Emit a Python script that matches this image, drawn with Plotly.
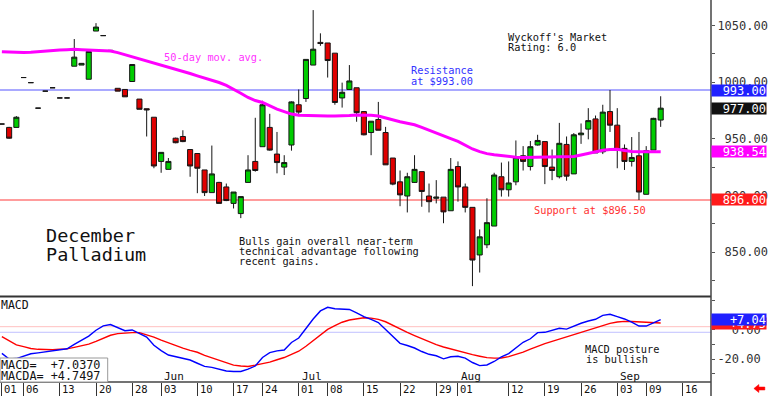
import plotly.graph_objects as go

# ---------------- data ----------------
# trading-session index of each candle (May 1 .. Sep 11, one June session missing)
day_index = list(range(92))

opens = [963, 960, 960, 1004, 999.5, 977, 992, 995, 986, 986,
         1014, 1015, 1002.5, 1045, 1041, 1027, 994.5, 993.5, 1000.5, 985,
         976.5, 969, 930, 923, 950.5, 952, 940.5, 937, 922.5, 902.5,
         911.5, 907.5, 893, 884, 911.5, 930, 943, 960, 936.5, 925,
         944.5, 980, 985.5, 1015, 1035, 1034.5, 1025.5, 986, 993.5, 995,
         974, 955.5, 967, 955.5, 933, 912, 899.5, 911.5, 921, 899.5,
         897.5, 898.5, 886.5, 925.5, 907.5, 889.5, 847.5, 856.5, 873, 916.5,
         905, 912, 935, 925.5, 944.5, 947.5, 925, 916.5, 945, 919,
         953.5, 958.5, 967.5, 938.5, 974, 962, 941.5, 930, 935, 901,
         940, 966.5]
highs = [963, 960.5, 970, 1004, 999.5, 977, 992, 995, 986, 986,
         1038, 1016.5, 1027, 1052, 1041, 1028, 994.5, 993.5, 1015.5, 985,
         976.5, 969, 938, 933, 951, 957.5, 940.5, 937, 922.5, 944,
         912, 910.5, 903, 899, 935.5, 968.5, 983.5, 972, 956, 935.5,
         983, 993.5, 1020, 1063.5, 1043, 1034.5, 1025.5, 999.5, 1015, 995,
         974.5, 965.5, 982.5, 960.5, 933, 922, 920, 935.5, 921, 910.5,
         913.5, 898.5, 933, 930, 910.5, 889.5, 870, 897.5, 920, 929,
         930, 948.5, 943.5, 948, 953.5, 947.5, 940.5, 964, 952, 955,
         963.5, 977, 970.5, 980, 993, 977, 945, 951.5, 956, 943.5,
         968.5, 987.5]
lows = [963, 950, 960, 1004, 999.5, 977, 992, 995, 986, 986,
        1014, 1015, 1002.5, 1045, 1041, 1027, 992, 987, 1000.5, 976,
        952, 924, 920, 923, 946, 947, 916.5, 902, 899.5, 902.5,
        893, 895, 888.5, 880, 911.5, 921, 943, 939.5, 919.5, 918,
        939.5, 970, 982.5, 1015, 1032, 1004, 980, 977.5, 993.5, 965,
        953, 935.5, 957.5, 927, 909, 890.5, 885, 911, 890, 885,
        893, 875.5, 886.5, 894.5, 885, 820, 832, 853.5, 873, 899,
        899, 909, 922, 922, 944, 910, 913.5, 915, 913, 919,
        945.5, 949.5, 937.5, 936.5, 956, 924, 922.5, 925.5, 896, 901,
        940, 960.5]
closes = [963, 950.5, 969, 1004, 999.5, 977, 992, 995, 986, 986,
          1022, 1016.5, 1027, 1048.5, 1041, 1028, 992, 987, 1015.5, 976,
          975.5, 926, 938, 930, 946.5, 947.5, 926, 924, 902.5, 919,
          893, 895.5, 903, 899, 922.5, 922, 980, 940, 929, 929,
          982.5, 973.5, 1020, 1029, 1034, 1019, 982, 991, 1001, 973,
          953.5, 965.5, 957.5, 927, 910, 900.5, 916.5, 923, 903.5, 894.5,
          898.5, 885.5, 923, 907.5, 889.5, 843, 863.5, 876, 918, 905,
          911, 933.5, 930, 943, 948.5, 925.5, 922, 946, 917, 953.5,
          955, 966, 937.5, 973.5, 962, 940.5, 930, 933.5, 903, 939.5,
          968, 977]
ma50 = [1026.8, 1026.5, 1026.2, 1026.0, 1026.3, 1026.9, 1027.4, 1027.7, 1028.2, 1028.5,
        1028.9, 1028.6, 1028.4, 1028.3, 1027.9, 1027.4, 1026.0, 1024.2, 1022.2, 1020.3,
        1018.4, 1016.5, 1014.7, 1012.8, 1011.1, 1009.5, 1007.6, 1005.5, 1003.6, 1001.8,
        999.6, 997.0, 993.9, 990.2, 986.4, 983.7, 982.0, 978.9, 976.2, 974.0,
        971.8, 970.8, 970.5, 970.3, 970.2, 970.1, 970.1, 970.1, 970.5, 971.0,
        971.0, 970.8, 970.1, 968.3, 966.5, 965.0, 963.6, 962.3, 960.1, 957.7,
        955.6, 953.3, 950.2, 947.6, 944.1, 941.0, 938.6, 936.9, 935.9, 935.0,
        934.2, 933.7, 933.4, 933.5, 933.6, 933.7, 933.7, 933.7, 933.7, 934.3,
        935.7, 937.2, 938.4, 939.9, 940.5, 940.7, 939.6, 938.7, 938.6, 938.6,
        938.6, 938.54]
macd = [-16.0, -19.8, -19.5, -17.7, -16.2, -15.6, -15.0, -14.0, -13.3, -12.8,
        -9.8, -7.2, -4.2, -0.2, 2.8, 3.7, 1.6, -0.5, 0.0, -2.3,
        -4.8, -10.4, -14.1, -17.1, -18.2, -19.0, -20.5, -22.7, -24.8, -25.5,
        -26.6, -28.0, -28.3, -28.3, -26.7, -24.6, -18.8, -15.5, -14.3, -13.7,
        -8.5, -5.5, 1.0, 7.5, 13.0, 15.5, 14.5, 14.3, 14.0, 11.6,
        9.1, 7.2, 5.1, 0.3, -4.4, -9.1, -10.6, -12.3, -14.7, -16.6,
        -17.6, -19.7, -18.3, -17.9, -19.2, -22.2, -24.3, -23.9, -21.5, -18.3,
        -16.1, -12.1, -8.4, -6.0, -1.8, -1.6, -0.3, 1.2, 0.6, 2.7,
        4.6, 6.1, 7.3, 10.0, 10.7, 9.1, 7.5, 5.3, 2.7, 2.7,
        4.8, 7.037]
macda = [-4.6, -7.4, -10.2, -11.4, -12.6, -13.2, -13.5, -13.5, -13.2, -12.9,
         -11.9, -10.9, -9.7, -7.8, -5.8, -3.6, -2.5, -2.0, -1.8, -1.8,
         -3.3, -4.9, -6.9, -8.9, -10.8, -12.4, -13.9, -15.2, -17.3, -19.0,
         -21.1, -22.7, -24.0, -24.6, -24.9, -24.0, -23.1, -21.9, -20.3, -18.8,
         -16.6, -14.5, -11.1, -7.4, -3.5, 0.4, 2.9, 5.3, 6.8, 7.6,
         8.3, 8.1, 7.2, 5.6, 3.0, 0.5, -1.7, -3.8, -5.9, -8.0,
         -10.0, -11.6, -13.0, -13.9, -15.3, -16.8, -17.9, -18.9, -19.2, -19.1,
         -18.2, -16.7, -15.1, -13.0, -11.0, -9.3, -7.8, -6.3, -5.0, -3.5,
         -1.8, -0.2, 1.4, 3.0, 4.5, 5.4, 5.9, 5.8, 5.5, 5.3,
         5.0, 4.7497]

tick_days = [0, 3, 8, 13, 18, 22, 27, 32, 36, 41, 45, 50, 55, 60, 63, 70, 75, 80, 85, 89, 94]
tick_labels = ["01", "06", "13", "20", "28", "03", "10", "17", "24", "01", "08",
               "15", "22", "29", "01", "12", "19", "26", "03", "09", "16"]
month_days = [22, 41, 63, 85]
month_labels = ["Jun", "Jul", "Aug", "Sep"]

price_tick_vals = [825, 850, 875, 900, 925, 950, 975, 1000, 1025, 1050, 1075]
price_label_vals = [850, 900, 950, 1000, 1050]
macd_tick_vals = [-30, -20, -10, 0, 10, 20]
macd_label_vals = [-20, 0]

resistance = 993.0
support = 896.0
macd_ref_red = 2.25
macd_ref_blue = -1.57

# ---------------- styling / layout helpers ----------------
MONO = "DejaVu Sans Mono, Liberation Mono, monospace"
PW, PH = 713.0, 382.0
X_RANGE = [-0.26, 97.95]
NB = "\u00a0"


def pxx(px):
    return px / PW


def pxy(py):
    return (PH - py) / PH


def pad(s, n):
    return NB * (n - len(s)) + s


fig = go.Figure()
fig.add_trace(go.Candlestick(
    x=day_index, open=opens, high=highs, low=lows, close=closes,
    xaxis="x", yaxis="y", whiskerwidth=0, hoverinfo="none",
    increasing=dict(fillcolor="#00CC00", line=dict(color="#151515", width=1)),
    decreasing=dict(fillcolor="#E00000", line=dict(color="#151515", width=1)),
))
fig.add_trace(go.Scatter(x=day_index, y=ma50, mode="lines", xaxis="x", yaxis="y",
                         line=dict(color="#FF00FF", width=3), hoverinfo="none"))
fig.add_trace(go.Scatter(x=day_index, y=macda, mode="lines", xaxis="x2", yaxis="y2",
                         line=dict(color="#FF0000", width=1.4), hoverinfo="none"))
fig.add_trace(go.Scatter(x=day_index, y=macd, mode="lines", xaxis="x2", yaxis="y2",
                         line=dict(color="#0000FF", width=1.4), hoverinfo="none"))

price_text = [pad(f"{v:.2f}", 7) if v in price_label_vals else "" for v in price_tick_vals]
macd_text = [pad(f"{v:.2f}", 6) if v in macd_label_vals else "" for v in macd_tick_vals]

fig.update_layout(
    width=768, height=396,
    margin=dict(l=0, r=55, t=0, b=14),
    paper_bgcolor="white", plot_bgcolor="white",
    showlegend=False,
    boxgap=0.3, boxgroupgap=0.0,
    xaxis=dict(domain=[0, 1], anchor="y", range=X_RANGE, showticklabels=False,
               showgrid=False, zeroline=False, ticks="", rangeslider=dict(visible=False)),
    xaxis2=dict(domain=[0, 1], anchor="y2", matches="x", range=X_RANGE,
                tickmode="array", tickvals=tick_days, showticklabels=False,
                ticks="outside", ticklen=14, tickwidth=1, tickcolor="#333",
                showgrid=False, zeroline=False),
    yaxis=dict(domain=[1 - 296 / PH, 1], anchor="x", side="right", range=[811.3, 1072.4],
               tickmode="array", tickvals=price_tick_vals, ticktext=price_text,
               ticks="outside", ticklen=3, tickcolor="#555",
               tickfont=dict(family=MONO, size=12, color="#333"),
               showgrid=False, zeroline=False),
    yaxis2=dict(domain=[0, 85 / PH], anchor="x2", side="right", range=[-35.5, 22.5],
                tickmode="array", tickvals=macd_tick_vals, ticktext=macd_text,
                ticks="outside", ticklen=3, tickcolor="#555",
                tickfont=dict(family=MONO, size=12, color="#333"),
                showgrid=False, zeroline=False),
)

shapes = [
    dict(type="line", xref="paper", yref="y", x0=0, x1=1, y0=resistance, y1=resistance,
         line=dict(color="#8C8CFF", width=1.6), layer="below"),
    dict(type="line", xref="paper", yref="y", x0=0, x1=1, y0=support, y1=support,
         line=dict(color="#FF9C9C", width=2), layer="below"),
    dict(type="line", xref="paper", yref="y2", x0=0, x1=1, y0=macd_ref_red, y1=macd_ref_red,
         line=dict(color="#FFC0C0", width=1), layer="below"),
    dict(type="line", xref="paper", yref="y2", x0=0, x1=1, y0=macd_ref_blue, y1=macd_ref_blue,
         line=dict(color="#C0C0FF", width=1), layer="below"),
    dict(type="line", xref="paper", yref="paper", x0=0, x1=1, y0=pxy(296.5), y1=pxy(296.5),
         line=dict(color="#333", width=2)),
    dict(type="line", xref="paper", yref="paper", x0=0, x1=1, y0=pxy(382), y1=pxy(382),
         line=dict(color="#444", width=1.5)),
    dict(type="line", xref="paper", yref="paper", x0=1, x1=1, y0=pxy(396), y1=1,
         line=dict(color="#444", width=1.5)),
    dict(type="rect", xref="paper", yref="paper", x0=0, x1=pxx(108), y0=pxy(382), y1=pxy(358),
         fillcolor="white", line=dict(color="#999", width=1), layer="above"),
    dict(type="path", xref="paper", yref="paper", fillcolor="#FF0000", line=dict(color="#FF0000", width=0.5),
         path="M {} {} L {} {} L {} {} L {} {} L {} {} L {} {} L {} {} Z".format(
             pxx(756), pxy(388.5), pxx(761), pxy(384.5), pxx(761), pxy(387),
             pxx(767), pxy(387), pxx(767), pxy(390), pxx(761), pxy(390),
             pxx(761), pxy(392.5))),
]
fig.update_layout(shapes=shapes)

ann = []


def note(text, px, py, color="#111", size=10.3, family=MONO):
    ann.append(dict(text=text, xref="paper", yref="paper", x=pxx(px), y=pxy(py),
                    xanchor="left", yanchor="middle", showarrow=False, borderpad=0,
                    font=dict(family=family, size=size, color=color)))


note("50-day mov. avg.", 163, 57.5, "#FF33FF")
note("Resistance", 411, 70.5, "#3333FF")
note("at $993.00", 411, 80.5, "#3333FF")
note("Wyckoff's Market", 508, 36.5)
note("Rating: 6.0", 508, 46.7)
note("Support at $896.50", 534, 210, "#FF3333")
note("December", 45, 235, "#111", 18.5)
note("Palladium", 45, 254.5, "#111", 18.5)
note("Bulls gain overall near-term", 239, 241.3)
note("technical advantage following", 239, 251.2)
note("recent gains.", 239, 261.1)
note("MACD", 0, 305.3, "#111", 11.5)
note("MACD posture", 586, 349)
note("is bullish", 587, 359)
note("MACD=" + NB * 2 + "+7.0370", 0.5, 364.5, "#111", 11.8)
note("MACDA=" + NB + "+4.7497", 0.5, 375.5, "#111", 11.8)

for d, lab in zip(month_days, month_labels):
    ann.append(dict(text=lab, xref="x2", yref="paper", x=d, y=pxy(376), xshift=2,
                    xanchor="left", yanchor="middle", showarrow=False, borderpad=0,
                    font=dict(family=MONO, size=11, color="#111")))
for d, lab in zip(tick_days, tick_labels):
    ann.append(dict(text=lab, xref="x2", yref="paper", x=d, y=pxy(389.3), xshift=1.5,
                    xanchor="left", yanchor="middle", showarrow=False, borderpad=0,
                    font=dict(family=MONO, size=10.5, color="#111")))


def tag(val, text, bg, yref):
    ann.append(dict(text=text, xref="paper", yref=yref, x=1, y=val, xanchor="left",
                    yanchor="middle", showarrow=False, bgcolor=bg, borderpad=0,
                    width=54, height=11, align="right", valign="middle",
                    font=dict(family=MONO, size=12, color="white")))


tag(resistance, f"{resistance:.2f}", "#2020FF", "y")
tag(closes[-1], f"{closes[-1]:.2f}", "#111111", "y")
tag(ma50[-1], f"{ma50[-1]:.2f}", "#FF00FF", "y")
tag(support, f"{support:.2f}", "#FF1A1A", "y")
tag(macda[-1], f"{macda[-1]:+.2f}", "#FF1A1A", "y2")
tag(macd[-1], f"{macd[-1]:+.2f}", "#2020FF", "y2")

fig.update_layout(annotations=ann)
fig.write_html(
    "out.html",
    config={"displayModeBar": False, "staticPlot": True},
    post_script="document.body.style.margin='0';document.body.style.padding='0';"
                "document.body.style.overflow='hidden';",
)
